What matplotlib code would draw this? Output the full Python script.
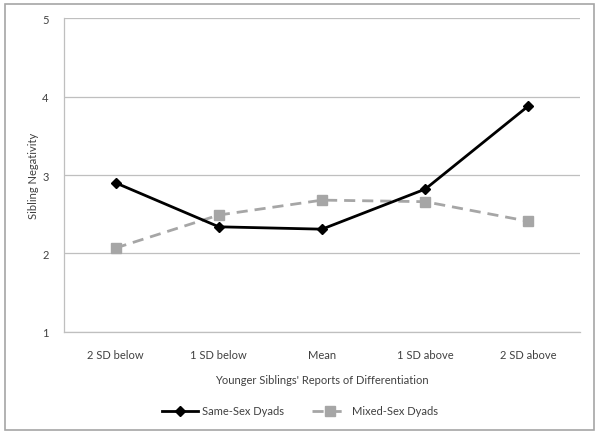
import matplotlib
matplotlib.use("Agg")
import matplotlib.pyplot as plt
from matplotlib.patches import Rectangle

categories = ["2 SD below", "1 SD below", "Mean", "1 SD above", "2 SD above"]
same_sex = [2.90, 2.34, 2.31, 2.82, 3.88]
mixed_sex = [2.07, 2.49, 2.68, 2.66, 2.41]
yticks = [1, 2, 3, 4, 5]

plt.rcParams['font.family'] = ['Lato', 'DejaVu Sans']

fig = plt.figure(figsize=(6, 4.35), dpi=100)
ax = fig.add_axes([0.1067, 0.2345, 0.86, 0.7218])

x = list(range(len(categories)))
ax.plot(x, same_sex, color='black', lw=2, marker='D', ms=5, label='Same-Sex Dyads', zorder=3)
ax.plot(x, mixed_sex, color='#a6a6a6', lw=2, ls=(0, (4, 2.5)), marker='s', ms=7, label='Mixed-Sex Dyads', zorder=2)

ax.set_xlim(-0.5, len(categories) - 0.5)
ax.set_ylim(1, 5)
ax.set_yticks(yticks)
ax.set_xticks(x)
ax.set_xticklabels(categories)
ax.tick_params(length=0, labelsize=8, colors='#404040', pad=12)
ax.tick_params(axis='y', pad=11)
ax.yaxis.grid(True, color='#bfbfbf', lw=0.9)
ax.set_axisbelow(True)
for s in ['top', 'right']:
    ax.spines[s].set_visible(False)
for s in ['left', 'bottom']:
    ax.spines[s].set_color('#bfbfbf')
    ax.spines[s].set_linewidth(0.9)

ax.set_xlabel("Younger Siblings' Reports of Differentiation", fontsize=8, color='#404040', labelpad=10)
ax.set_ylabel("Sibling Negativity", fontsize=8, color='#404040', labelpad=2)

leg = fig.legend(loc='center', bbox_to_anchor=(0.5, 0.053), ncol=2, frameon=False, fontsize=8,
                 handlelength=3.2, columnspacing=2.5, handletextpad=0.4)
for t in leg.get_texts():
    t.set_color('#404040')

fig.patches.append(Rectangle((0.008, 0.009), 0.982, 0.98, transform=fig.transFigure,
                             fill=False, edgecolor='#a6a6a6', lw=1.2))

fig.savefig('out.png', dpi=100)
